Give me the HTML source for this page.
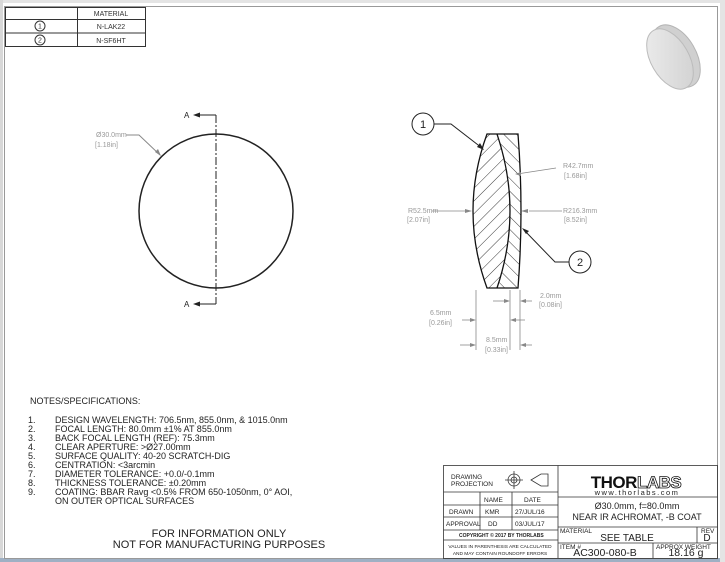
<!DOCTYPE html>
<html><head><style>
body{margin:0;background:#fff;}
svg{display:block;font-family:"Liberation Sans",sans-serif;}
</style></head><body>
<svg width="725" height="562" viewBox="0 0 725 562">
<rect x="0" y="0" width="725" height="562" fill="#fff"/>
<rect x="0" y="0" width="725" height="3" fill="#e4e4e4"/>
<rect x="0" y="0" width="3" height="562" fill="#d8d8d8"/>
<rect x="0" y="558" width="725" height="4" fill="#9fb0c4"/>
<rect x="720" y="0" width="5" height="562" fill="#e4e4e4"/>
<rect x="4.5" y="6.5" width="713" height="552" fill="none" stroke="#999" stroke-width="1"/>
<g stroke="#333" stroke-width="1" fill="none">
<rect x="5.5" y="7.5" width="140" height="39"/>
<line x1="77.5" y1="7.5" x2="77.5" y2="46.5"/>
<line x1="5.5" y1="19.5" x2="145.5" y2="19.5"/>
<line x1="5.5" y1="33" x2="145.5" y2="33"/>
<circle cx="40" cy="26" r="5"/>
<circle cx="40" cy="40" r="5"/>
</g>
<g font-size="7" fill="#333" text-anchor="middle">
<text x="111" y="16">MATERIAL</text>
<text x="111" y="29">N-LAK22</text>
<text x="111" y="43">N-SF6HT</text>
<text x="40" y="28.5">1</text>
<text x="40" y="42.5">2</text>
</g>
<defs><linearGradient id="g" x1="0" y1="0" x2="1" y2="1"><stop offset="0" stop-color="#eeeeee"/><stop offset="1" stop-color="#cfcfcf"/></linearGradient></defs>
<ellipse cx="676" cy="56" rx="20" ry="34" transform="rotate(-30 676 56)" fill="#d0d0d0" stroke="#b5b5b5"/>
<ellipse cx="670" cy="59" rx="19" ry="33" transform="rotate(-30 670 59)" fill="url(#g)" stroke="#bbb"/>
<circle cx="216" cy="211" r="77" fill="none" stroke="#222" stroke-width="1.5"/>
<line x1="216" y1="115" x2="216" y2="304" stroke="#222" stroke-width="1" stroke-dasharray="8,2,2,2"/>
<line x1="216" y1="115" x2="196" y2="115" stroke="#222"/>
<line x1="216" y1="304" x2="196" y2="304" stroke="#222"/>
<polygon points="193,115 200,112.5 200,117.5" fill="#222"/>
<polygon points="193,304 200,301.5 200,306.5" fill="#222"/>
<text x="184" y="118" font-size="8" fill="#222">A</text>
<text x="184" y="307" font-size="8" fill="#222">A</text>
<g fill="#999" font-size="7">
<text x="96" y="137">Ø30.0mm</text>
<text x="95" y="147">[1.18in]</text>
</g>
<polyline points="126,135 139,135 160,155" fill="none" stroke="#888"/>
<polygon points="161,156 155,152 158,149" fill="#888"/>
<defs>
<clipPath id="c1"><path d="M487,134 Q459,211 487,288 L497,288 Q523,211 497,134 Z"/></clipPath>
<clipPath id="c2"><path d="M497,134 Q523,211 497,288 L518,288 Q524,211 518,134 Z"/></clipPath>
<pattern id="h1" width="9" height="9" patternUnits="userSpaceOnUse" patternTransform="rotate(45)"><line x1="0" y1="0" x2="0" y2="9" stroke="#222" stroke-width="0.9"/></pattern>
<pattern id="h2" width="9" height="9" patternUnits="userSpaceOnUse" patternTransform="rotate(-45)"><line x1="0" y1="0" x2="0" y2="9" stroke="#222" stroke-width="0.9"/></pattern>
</defs>
<rect x="460" y="130" width="70" height="165" fill="url(#h1)" clip-path="url(#c1)"/>
<rect x="460" y="130" width="70" height="165" fill="url(#h2)" clip-path="url(#c2)"/>
<g fill="none" stroke="#111" stroke-width="1.3">
<path d="M487,134 Q459,211 487,288 L518,288 Q524,211 518,134 Z"/>
<path d="M497,134 Q523,211 497,288"/>
</g>
<circle cx="423" cy="124" r="11" fill="#fff" stroke="#222"/>
<text x="423" y="128" font-size="11" text-anchor="middle" fill="#222">1</text>
<polyline points="434,124 451,124 482,148" fill="none" stroke="#222"/>
<polygon points="484,150 477,147 480,143" fill="#222"/>
<circle cx="580" cy="262" r="11" fill="#fff" stroke="#222"/>
<text x="580" y="266" font-size="11" text-anchor="middle" fill="#222">2</text>
<polyline points="569,262 555,262 524,230" fill="none" stroke="#222"/>
<polygon points="522,228 529,231 526,234" fill="#222"/>
<g stroke="#888" stroke-width="0.8" fill="none">
<line x1="432" y1="211" x2="470" y2="211"/>
<line x1="529" y1="211" x2="562" y2="211"/>
<polyline points="556,168 517,174"/>
<line x1="476" y1="290" x2="476" y2="350"/>
<line x1="510" y1="290" x2="510" y2="350"/>
<line x1="520" y1="290" x2="520" y2="350"/>
<line x1="493" y1="301" x2="508" y2="301"/>
<line x1="522" y1="301" x2="532" y2="301"/>
<line x1="462" y1="320" x2="474" y2="320"/>
<line x1="512" y1="320" x2="525" y2="320"/>
<line x1="460" y1="345" x2="474" y2="345"/>
<line x1="522" y1="345" x2="532" y2="345"/>
</g>
<g fill="#888">
<polygon points="472,211 465,209 465,213"/>
<polygon points="521,211 528,209 528,213"/>
<polygon points="515,174 521,172 521,176"/>
<polygon points="510,301 504,299 504,303"/>
<polygon points="520,301 526,299 526,303"/>
<polygon points="476,320 470,318 470,322"/>
<polygon points="510,320 516,318 516,322"/>
<polygon points="476,345 470,343 470,347"/>
<polygon points="520,345 526,343 526,347"/>
</g>
<g fill="#999" font-size="7">
<text x="408" y="213">R52.5mm</text><text x="407" y="222">[2.07in]</text>
<text x="563" y="168">R42.7mm</text><text x="564" y="178">[1.68in]</text>
<text x="563" y="213">R216.3mm</text><text x="564" y="222">[8.52in]</text>
<text x="540" y="298">2.0mm</text><text x="539" y="307">[0.08in]</text>
<text x="430" y="315">6.5mm</text><text x="429" y="325">[0.26in]</text>
<text x="486" y="342">8.5mm</text><text x="485" y="352">[0.33in]</text>
</g>
<g font-size="9" fill="#222">
<text x="30" y="404">NOTES/SPECIFICATIONS:</text>
<text x="28" y="423">1.</text><text x="55" y="423">DESIGN WAVELENGTH: 706.5nm, 855.0nm, &amp; 1015.0nm</text>
<text x="28" y="432">2.</text><text x="55" y="432">FOCAL LENGTH: 80.0mm ±1% AT 855.0nm</text>
<text x="28" y="441">3.</text><text x="55" y="441">BACK FOCAL LENGTH (REF): 75.3mm</text>
<text x="28" y="450">4.</text><text x="55" y="450">CLEAR APERTURE: &gt;Ø27.00mm</text>
<text x="28" y="459">5.</text><text x="55" y="459">SURFACE QUALITY: 40-20 SCRATCH-DIG</text>
<text x="28" y="468">6.</text><text x="55" y="468">CENTRATION: &lt;3arcmin</text>
<text x="28" y="477">7.</text><text x="55" y="477">DIAMETER TOLERANCE: +0.0/-0.1mm</text>
<text x="28" y="486">8.</text><text x="55" y="486">THICKNESS TOLERANCE: ±0.20mm</text>
<text x="28" y="495">9.</text><text x="55" y="495">COATING: BBAR Ravg &lt;0.5% FROM 650-1050nm, 0° AOI,</text>
<text x="55" y="504">ON OUTER OPTICAL SURFACES</text>
</g>
<g font-size="11" fill="#222" text-anchor="middle">
<text x="219" y="537">FOR INFORMATION ONLY</text>
<text x="219" y="548">NOT FOR MANUFACTURING PURPOSES</text>
</g>
<g stroke="#333" stroke-width="0.8" fill="none">
<rect x="443.5" y="465.5" width="274" height="93"/>
<line x1="558" y1="465.5" x2="558" y2="558"/>
<line x1="443.5" y1="492" x2="558" y2="492"/>
<line x1="443.5" y1="505" x2="558" y2="505"/>
<line x1="443.5" y1="517" x2="558" y2="517"/>
<line x1="443.5" y1="530" x2="558" y2="530"/>
<line x1="443.5" y1="540" x2="558" y2="540"/>
<line x1="480" y1="492" x2="480" y2="530"/>
<line x1="512" y1="492" x2="512" y2="530"/>
<line x1="558" y1="497" x2="717.5" y2="497"/>
<line x1="558" y1="527" x2="717.5" y2="527"/>
<line x1="558" y1="543" x2="717.5" y2="543"/>
<line x1="697" y1="527" x2="697" y2="543"/>
<line x1="653" y1="543" x2="653" y2="558"/>
<circle cx="514" cy="480" r="6"/><circle cx="514" cy="480" r="3"/>
<line x1="505" y1="480" x2="523" y2="480"/><line x1="514" y1="471" x2="514" y2="489"/>
<path d="M531,480 L541,474 L548,474 L548,486 L541,486 Z"/>
</g>
<g fill="#222" font-size="6.5">
<text x="451" y="479">DRAWING</text><text x="451" y="486">PROJECTION</text>
<text x="484" y="502">NAME</text><text x="524" y="502">DATE</text>
<text x="449" y="514">DRAWN</text><text x="485" y="514">KMR</text><text x="515" y="514">27/JUL/16</text>
<text x="446" y="526">APPROVAL</text><text x="488" y="526">DD</text><text x="515" y="526">03/JUL/17</text>
<text x="459" y="537" font-size="5" font-weight="bold">COPYRIGHT © 2017 BY THORLABS</text>
<text x="500" y="548" font-size="4.8" text-anchor="middle">VALUES IN PARENTHESIS ARE CALCULATED</text>
<text x="500" y="555" font-size="4.8" text-anchor="middle">AND MAY CONTAIN ROUNDOFF ERRORS</text>
<text x="560" y="533">MATERIAL</text><text x="701" y="533">REV</text>
<text x="560" y="549">ITEM #</text><text x="656" y="549">APPROX WEIGHT</text>
</g>
<text x="636" y="488" font-size="17" font-weight="bold" fill="#111" text-anchor="middle" letter-spacing="-0.5">THOR<tspan fill="#fff" stroke="#111" stroke-width="0.8">LABS</tspan></text>
<text x="637" y="495" font-size="7.5" fill="#222" text-anchor="middle" letter-spacing="1.5">www.thorlabs.com</text>
<g fill="#222" text-anchor="middle">
<text x="637" y="509" font-size="9">Ø30.0mm, f=80.0mm</text>
<text x="637" y="520" font-size="9">NEAR IR ACHROMAT, -B COAT</text>
<text x="627" y="541" font-size="10">SEE TABLE</text>
<text x="707" y="541" font-size="10">D</text>
<text x="605" y="556" font-size="10.5">AC300-080-B</text>
<text x="686" y="556" font-size="10.5">18.16 g</text>
</g>
</svg>
</body></html>
